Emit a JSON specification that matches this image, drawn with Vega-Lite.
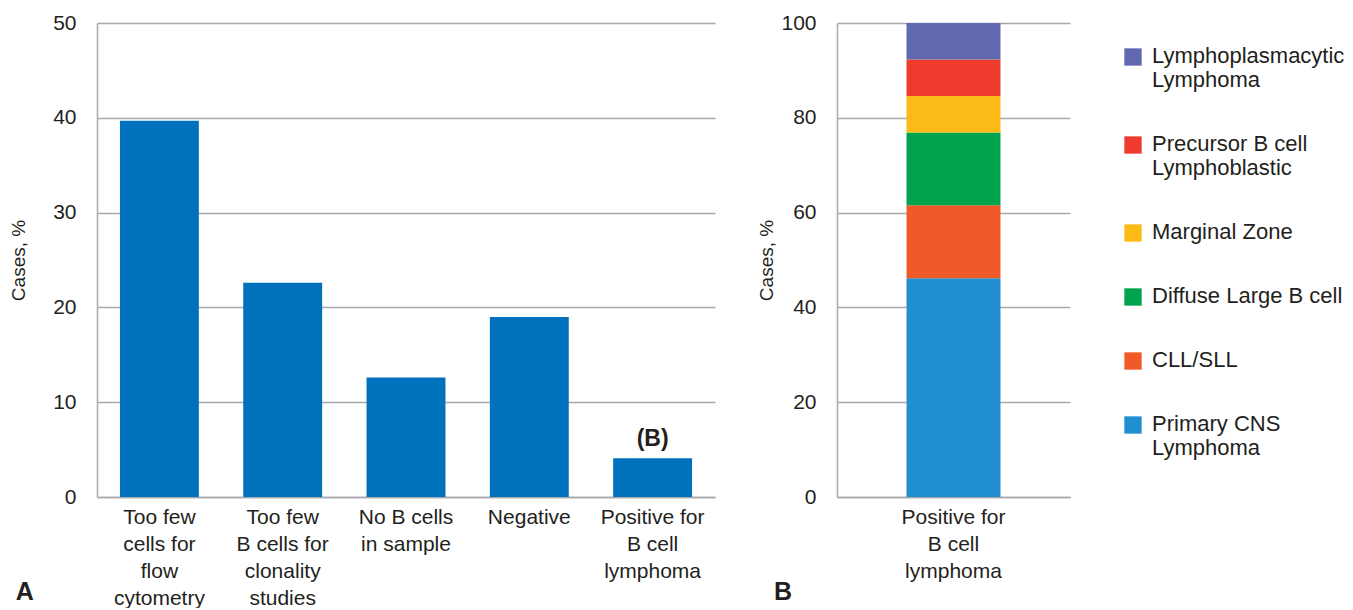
{
  "$schema": "https://vega.github.io/schema/vega-lite/v6.json",
  "padding": {"left": 9, "top": 12, "right": 0, "bottom": 0},
  "background": "white",
  "config": {
    "font": "Liberation Sans",
    "view": {"stroke": null},
    "axis": {
      "labelFont": "Liberation Sans",
      "labelFontSize": 21,
      "labelColor": "#231f20",
      "titleFont": "Liberation Sans",
      "titleFontSize": 19,
      "titleFontWeight": "normal",
      "titleColor": "#231f20",
      "gridColor": "#a7a9ac",
      "gridWidth": 1.5,
      "domainColor": "#a7a9ac",
      "domainWidth": 1.5,
      "ticks": false
    },
    "title": {"font": "Liberation Sans", "fontSize": 25, "fontWeight": "bold", "color": "#231f20"}
  },
  "spacing": 42,
  "hconcat": [
    {
      "width": 618,
      "height": 474,
      "title": {"text": "A", "orient": "bottom", "anchor": "start", "frame": "bounds", "dy": -32, "dx": 6},
      "data": {
        "values": [
          {"category": "Too few cells for flow cytometry", "cases": 39.7, "note": ""},
          {"category": "Too few B cells for clonality studies", "cases": 22.6, "note": ""},
          {"category": "No B cells in sample", "cases": 12.6, "note": ""},
          {"category": "Negative", "cases": 19.0, "note": ""},
          {"category": "Positive for B cell lymphoma", "cases": 4.1, "note": "(B)"}
        ]
      },
      "encoding": {
        "x": {
          "field": "category",
          "type": "nominal",
          "sort": null,
          "scale": {"paddingInner": 0.36, "paddingOuter": 0.186},
          "axis": {
            "title": null,
            "labelAngle": 0,
            "labelPadding": 9,
            "labelLineHeight": 27,
            "labelBaseline": "top",
            "domain": true,
            "labelExpr": "datum.value == 'Too few cells for flow cytometry' ? ['Too few', 'cells for', 'flow', 'cytometry'] : datum.value == 'Too few B cells for clonality studies' ? ['Too few', 'B cells for', 'clonality', 'studies'] : datum.value == 'No B cells in sample' ? ['No B cells', 'in sample'] : datum.value == 'Positive for B cell lymphoma' ? ['Positive for', 'B cell', 'lymphoma'] : datum.value"
          }
        },
        "y": {
          "field": "cases",
          "type": "quantitative",
          "scale": {"domain": [0, 50], "nice": false},
          "axis": {"title": "Cases, %", "values": [0, 10, 20, 30, 40, 50], "labelPadding": 21, "titlePadding": 24, "grid": true}
        }
      },
      "layer": [
        {"mark": {"type": "bar", "color": "#0071bc"}},
        {
          "mark": {"type": "text", "fontWeight": "bold", "fontSize": 23, "baseline": "alphabetic", "dy": -12, "color": "#231f20"},
          "encoding": {"text": {"field": "note"}}
        }
      ]
    },
    {
      "width": 233,
      "height": 474,
      "title": {"text": "B", "orient": "bottom", "anchor": "start", "frame": "bounds", "dy": -5, "dx": 16},
      "data": {
        "values": [
          {"category": "Positive for B cell lymphoma", "type": "Primary CNS Lymphoma", "cases": 46.15, "stackOrder": 1},
          {"category": "Positive for B cell lymphoma", "type": "CLL/SLL", "cases": 15.38, "stackOrder": 2},
          {"category": "Positive for B cell lymphoma", "type": "Diffuse Large B cell", "cases": 15.38, "stackOrder": 3},
          {"category": "Positive for B cell lymphoma", "type": "Marginal Zone", "cases": 7.69, "stackOrder": 4},
          {"category": "Positive for B cell lymphoma", "type": "Precursor B cell Lymphoblastic", "cases": 7.7, "stackOrder": 5},
          {"category": "Positive for B cell lymphoma", "type": "Lymphoplasmacytic Lymphoma", "cases": 7.7, "stackOrder": 6}
        ]
      },
      "mark": {"type": "bar"},
      "encoding": {
        "x": {
          "field": "category",
          "type": "nominal",
          "scale": {"paddingInner": 0, "paddingOuter": 0.74},
          "axis": {
            "title": null,
            "labelAngle": 0,
            "labelPadding": 9,
            "labelLineHeight": 27,
            "labelBaseline": "top",
            "labelExpr": "['Positive for', 'B cell', 'lymphoma']"
          }
        },
        "y": {
          "field": "cases",
          "type": "quantitative",
          "stack": "zero",
          "scale": {"domain": [0, 100], "nice": false},
          "axis": {"title": "Cases, %", "values": [0, 20, 40, 60, 80, 100], "labelPadding": 21, "titlePadding": 4, "grid": true}
        },
        "order": {"field": "stackOrder", "type": "quantitative"},
        "color": {
          "field": "type",
          "type": "nominal",
          "scale": {
            "domain": ["Lymphoplasmacytic Lymphoma", "Precursor B cell Lymphoblastic", "Marginal Zone", "Diffuse Large B cell", "CLL/SLL", "Primary CNS Lymphoma"],
            "range": ["#6068b0", "#ef3b2e", "#fbba15", "#00a44e", "#f05a28", "#1f8fcf"]
          },
          "legend": {
            "title": null,
            "orient": "right",
            "offset": 29,
            "padding": 23,
            "symbolType": "square",
            "symbolSize": 300,
            "symbolStrokeWidth": 0,
            "labelFont": "Liberation Sans",
            "labelFontSize": 22,
            "labelColor": "#231f20",
            "labelLineHeight": 27,
            "labelOffset": 8,
            "labelLimit": 300,
            "labelBaseline": "top",
            "rowPadding": 42,
            "encode": {"labels": {"update": {"dy": {"value": -11}}}},
            "labelExpr": "datum.value == 'Lymphoplasmacytic Lymphoma' ? ['Lymphoplasmacytic', 'Lymphoma'] : datum.value == 'Precursor B cell Lymphoblastic' ? ['Precursor B cell', 'Lymphoblastic'] : datum.value == 'Primary CNS Lymphoma' ? ['Primary CNS', 'Lymphoma'] : datum.value"
          }
        }
      }
    }
  ]
}
